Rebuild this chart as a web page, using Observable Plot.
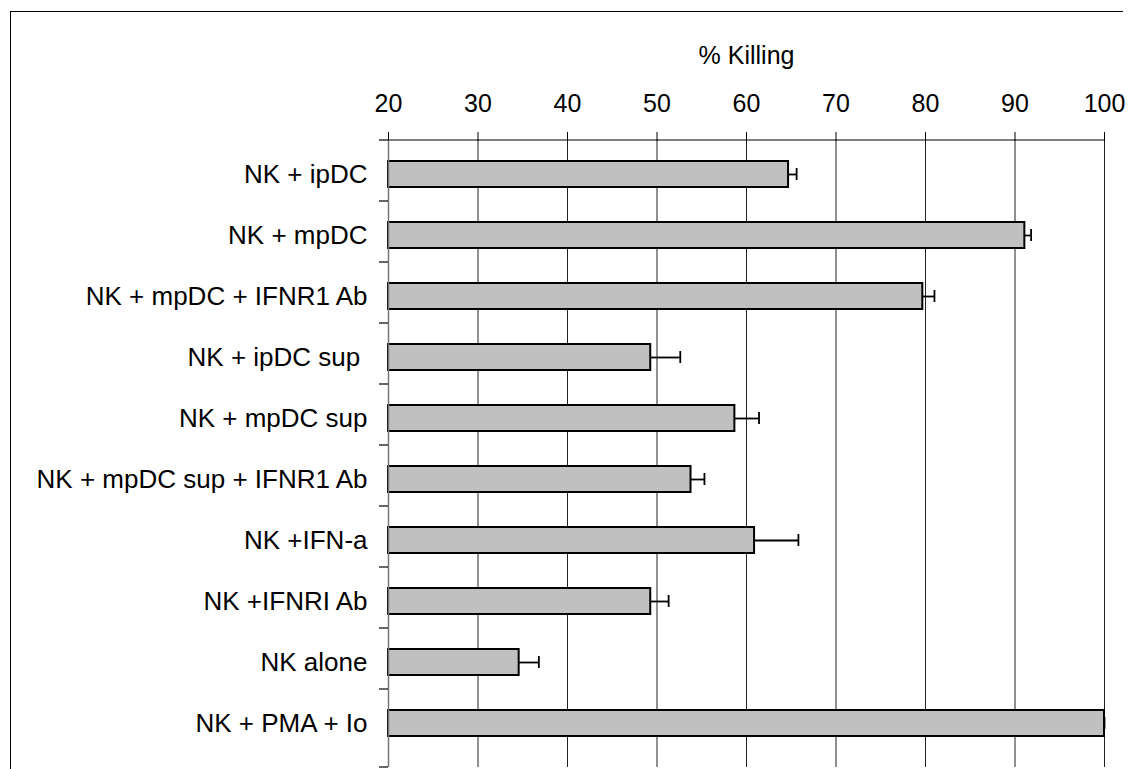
<!DOCTYPE html>
<html><head><meta charset="utf-8">
<script src="https://cdn.jsdelivr.net/npm/d3@7"></script>
<script src="https://cdn.jsdelivr.net/npm/@observablehq/plot@0.6"></script>
<style>
html,body{margin:0;padding:0;background:#fff;overflow:hidden;}
#wrap{position:relative;width:1133px;height:769px;overflow:hidden;}
#frame{position:absolute;left:10px;top:11px;width:1113px;height:800px;border-left:1.5px solid #000;border-top:1.5px solid #000;box-sizing:border-box;}
#chart{position:absolute;left:0;top:0;}
</style></head><body>
<div id="wrap"><div id="frame"></div><div id="chart"></div></div>
<script>
const categories = [
  "NK + ipDC",
  "NK + mpDC",
  "NK + mpDC + IFNR1 Ab",
  "NK + ipDC sup ",
  "NK + mpDC sup",
  "NK + mpDC sup + IFNR1 Ab",
  "NK +IFN-a",
  "NK +IFNRI Ab",
  "NK alone",
  "NK + PMA + Io"
];
const values = [64.7, 91.1, 79.7, 49.3, 58.7, 53.8, 60.9, 49.3, 34.6, 100];
const errors = [0.9, 0.7, 1.3, 3.3, 2.7, 1.5, 4.9, 2.0, 2.2, 0];
const xTicks = [20, 30, 40, 50, 60, 70, 80, 90, 100];
const xTitle = "% Killing";

const data = categories.map((c, i) => ({category: c, value: values[i], err: errors[i]}));
const x0 = xTicks[0];

const chart = Plot.plot({
  width: 1133, height: 777,
  marginTop: 140, marginLeft: 388, marginRight: 29, marginBottom: 10,
  style: {fontFamily: "'Liberation Sans', Arial, sans-serif", fontSize: "25px", color: "#000", background: "transparent"},
  x: {domain: [xTicks[0], xTicks[xTicks.length - 1]], axis: null},
  y: {domain: categories, range: [140, 756], paddingInner: 0.58, paddingOuter: 0.29, axis: null},
  marks: [
    Plot.gridX(xTicks, {stroke: "#222", strokeOpacity: 1, strokeWidth: 1}),
    Plot.axisX(xTicks, {anchor: "top", tickSize: 9, tickPadding: 20, label: null, stroke: "#000", fontSize: 25}),
    Plot.axisY({anchor: "left", tickSize: 0, tickPadding: 21, label: null, fontSize: 26}),
    Plot.barX(data, {y: "category", x1: x0, x2: "value", fill: "#c0c0c0", stroke: "#000", strokeWidth: 2}),
    Plot.ruleY(data, {y: "category", x1: "value", x2: d => d.value + d.err, stroke: "#000", strokeWidth: 1.8}),
    Plot.tickX(data, {y: "category", x: d => d.value + d.err, stroke: "#000", strokeWidth: 1.8, insetTop: 7, insetBottom: 7}),
    Plot.ruleX([x0], {stroke: "#777", strokeWidth: 1.5}),
    Plot.text([xTitle], {frameAnchor: "top", dy: -77, lineAnchor: "bottom", fontSize: 25})
  ]
});

// axis lines and category boundary ticks, from the chart's own scales
const xs = chart.scale("x"), ys = chart.scale("y");
const svg = d3.select(chart);
const g = svg.append("g").attr("stroke", "#000").attr("stroke-width", 1.2);
const yTop = ys.range[0];
const yBottom = 777 - 10;
const xl = xs.apply(xTicks[0]), xr = xs.apply(xTicks[xTicks.length - 1]);
g.append("line").attr("x1", xl).attr("x2", xr).attr("y1", yTop).attr("y2", yTop);
const bounds = categories.map((c, k) => yTop + k * ys.step).concat([yBottom]);
g.selectAll("line.b").data(bounds).join("line").attr("class", "b")
  .attr("x1", xl - 9).attr("x2", xl).attr("y1", d => d).attr("y2", d => d);

document.getElementById("chart").appendChild(chart);
</script>
</body></html>
